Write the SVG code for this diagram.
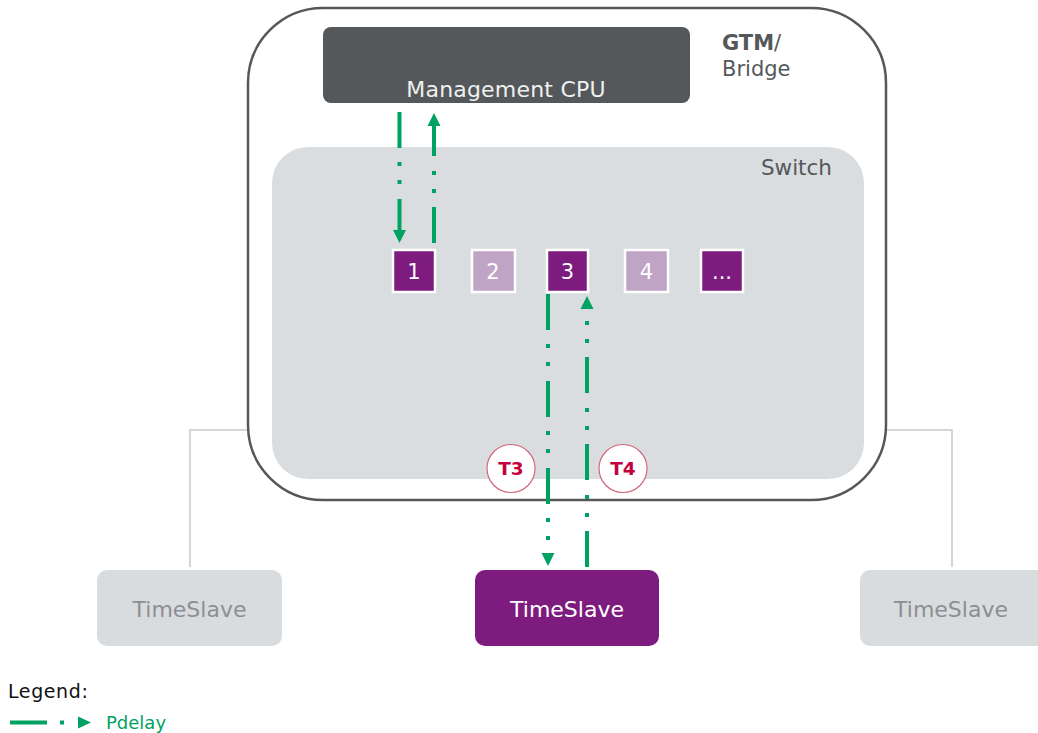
<svg xmlns="http://www.w3.org/2000/svg" width="1038" height="733" viewBox="0 0 1038 733">
<style>
text{font-family:"DejaVu Sans","Verdana",sans-serif}
.link{fill:none;stroke:#d3d6d9;stroke-width:2}
.flow{fill:none;stroke:#00a261;stroke-width:4;stroke-dasharray:36 14 4 14 4 15}
.port-on{fill:#7e1b7e;stroke:#fff;stroke-width:2.5}
.port-off{fill:#bfa4c6;stroke:#fff;stroke-width:2.5}
.pnum{fill:#fff;font-size:21px;text-anchor:middle}
.ts{font-size:22px;text-anchor:middle}
.tc{fill:#fff;stroke:#d5647c;stroke-width:1.2}
.tl{fill:#c3003c;font-size:18.5px;font-weight:bold;text-anchor:middle}
</style>
<defs>
<marker id="ah" markerWidth="14" markerHeight="14" refX="0" refY="7" orient="auto" markerUnits="userSpaceOnUse">
<path d="M0,0.5 L13,7 L0,13.5 z" fill="#00a261" stroke="none"/>
</marker>
</defs>
<rect width="1038" height="733" fill="#fff"/>
<g id="links">
<path class="link" d="M190,567 V430 H275"/>
<path class="link" d="M952,567 V430 H860"/>
</g>
<g id="gtm">
<rect x="248" y="8" width="638" height="492" rx="75" ry="75" fill="#fff" stroke="#54585a" stroke-width="2.5"/>
<text x="722" y="50" font-size="21" fill="#54585a"><tspan font-weight="bold">GTM</tspan>/</text>
<text x="722" y="76" font-size="21" fill="#54585a">Bridge</text>
</g>
<g id="cpu">
<rect x="323" y="27" width="367" height="76" rx="8" fill="#54585a"/>
<text x="506" y="97" font-size="22" letter-spacing="0.2" fill="#f0f0f0" text-anchor="middle">Management CPU</text>
</g>
<g id="switch">
<rect x="272" y="147" width="592" height="332" rx="36" fill="#dadddf"/>
<text x="832" y="175" font-size="21.5" fill="#54585a" text-anchor="end">Switch</text>
</g>
<g id="port1"><rect class="port-on" x="393" y="250" width="42" height="42"/><text class="pnum" x="414" y="279">1</text></g>
<g id="port2"><rect class="port-off" x="472" y="250" width="43" height="42"/><text class="pnum" x="493" y="279">2</text></g>
<g id="port3"><rect class="port-on" x="547" y="250" width="41" height="42"/><text class="pnum" x="567.5" y="279">3</text></g>
<g id="port4"><rect class="port-off" x="625" y="250" width="43" height="42"/><text class="pnum" x="646.5" y="279">4</text></g>
<g id="port5"><rect class="port-on" x="701" y="250" width="42" height="42"/><text class="pnum" x="722" y="279">...</text></g>
<g id="ts-left">
<rect x="97" y="570" width="185" height="76" rx="10" fill="#d9dcdf"/>
<text class="ts" x="189.5" y="616.5" fill="#8c8f92">TimeSlave</text>
</g>
<g id="ts-mid">
<rect x="475" y="570" width="184" height="76" rx="10" fill="#7e1b7e"/>
<text class="ts" x="567" y="616.5" fill="#fff">TimeSlave</text>
</g>
<g id="ts-right">
<rect x="860" y="570" width="190" height="76" rx="10" fill="#d9dcdf"/>
<text class="ts" x="951" y="616.5" fill="#8c8f92">TimeSlave</text>
</g>
<g id="connectors">
<path class="flow" d="M399.5,112 V230" marker-end="url(#ah)"/>
<path class="flow" d="M434,243 V126" marker-end="url(#ah)"/>
<path class="flow" d="M548,294 V553" marker-end="url(#ah)"/>
<path class="flow" d="M587,567 V309" marker-end="url(#ah)"/>
</g>
<g id="t3"><circle class="tc" cx="511" cy="468.5" r="24"/><text class="tl" x="511" y="475">T3</text></g>
<g id="t4"><circle class="tc" cx="623" cy="468.5" r="24"/><text class="tl" x="623" y="475">T4</text></g>
<g id="legend">
<text x="8" y="698" font-size="19" letter-spacing="0.6" fill="#111">Legend:</text>
<line x1="10" y1="722.5" x2="47" y2="722.5" stroke="#00a261" stroke-width="4"/>
<line x1="60" y1="722.5" x2="64" y2="722.5" stroke="#00a261" stroke-width="4"/>
<polygon points="78,716.5 91,722.5 78,728.5" fill="#00a261"/>
<text x="106" y="729" font-size="18" fill="#00a261">Pdelay</text>
</g>
</svg>
